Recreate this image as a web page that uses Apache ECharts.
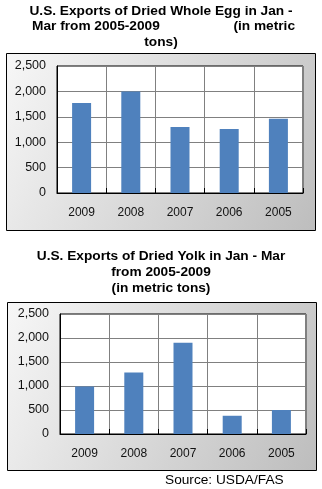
<!DOCTYPE html>
<html><head><meta charset="utf-8">
<script src="https://cdn.jsdelivr.net/npm/echarts@6/dist/echarts.min.js"></script>
<style>html,body{margin:0;padding:0;background:#fff}#c{width:322px;height:489px}</style>
</head><body><div id="c"></div>
<script>
const categories = ['2009', '2008', '2007', '2006', '2005'];
const wholeEgg = [1770, 2000, 1300, 1260, 1460];
const yolk = [990, 1280, 1900, 380, 500];
const yTicks = [0, 500, 1000, 1500, 2000, 2500];

const chart = echarts.init(document.getElementById('c'));
const font = 'Liberation Sans, Arial, sans-serif';
const grad = {type:'linear', x:0, y:0, x2:1, y2:1, colorStops:[{offset:0,color:'#f7f7f7'},{offset:1,color:'#bdbdbd'}]};
const titleStyle = {fontFamily: font, fontWeight: 'bold', fontSize: 13.7, color: '#000', textShadowColor:'rgba(200,150,0,0.35)', textShadowBlur:0, textShadowOffsetX:-0.6};
function fmt(v){ return v.toLocaleString('en-US'); }
function yAxis(i){
  return {type:'value', gridIndex:i, min:yTicks[0], max:yTicks[yTicks.length-1], interval:500,
    axisLine:{show:true, lineStyle:{color:'#000'}}, axisTick:{show:false},
    splitLine:{lineStyle:{color:'#808080'}},
    axisLabel:{formatter:fmt, color:'#111', fontFamily:font, fontSize:12.5, margin:11}};
}
function xAxis(i){
  return {type:'category', gridIndex:i, data:categories,
    axisLine:{lineStyle:{color:'#000'}},
    axisTick:{show:true, inside:true, length:5, lineStyle:{color:'#000'}},
    splitLine:{show:true, lineStyle:{color:'#808080'}},
    axisLabel:{color:'#111', fontFamily:font, fontSize:12, margin:14}};
}
function t(text, pos, top){
  return Object.assign({text:text, top:top, padding:0, textStyle:titleStyle}, pos);
}
chart.setOption({
  animation:false,
  graphic:[
    {type:'rect', z:-10, shape:{x:6.5, y:53.5, width:309, height:177}, style:{fill:grad, stroke:'#000', lineWidth:1}},
    {type:'rect', z:-10, shape:{x:7.5, y:302.5, width:309, height:168}, style:{fill:grad, stroke:'#000', lineWidth:1}},
    {type:'text', left:165, top:473, style:{text:'Source: USDA/FAS', font:'13.7px ' + font, fill:'#000'}}
  ],
  title:[
    t('U.S. Exports of Dried Whole Egg in Jan -', {left:'center'}, 4),
    t('Mar from 2005-2009', {left:32}, 19),
    t('(in metric', {right:27}, 19),
    t('tons)', {left:'center'}, 35),
    t('U.S. Exports of Dried Yolk in Jan - Mar', {left:'center'}, 249),
    t('from 2005-2009', {left:'center'}, 265),
    t('(in metric tons)', {left:'center'}, 281)
  ],
  grid:[
    {left:57, right:19, top:66, height:127, show:true, backgroundColor:'#fff', borderColor:'#000', borderWidth:1},
    {left:60, right:16, top:314, height:120, show:true, backgroundColor:'#fff', borderColor:'#000', borderWidth:1}
  ],
  xAxis:[xAxis(0), xAxis(1)],
  yAxis:[yAxis(0), yAxis(1)],
  series:[
    {type:'bar', xAxisIndex:0, yAxisIndex:0, data:wholeEgg, barWidth:19, itemStyle:{color:'#4f81bd'}},
    {type:'bar', xAxisIndex:1, yAxisIndex:1, data:yolk, barWidth:19, itemStyle:{color:'#4f81bd'}}
  ]
});
</script></body></html>
